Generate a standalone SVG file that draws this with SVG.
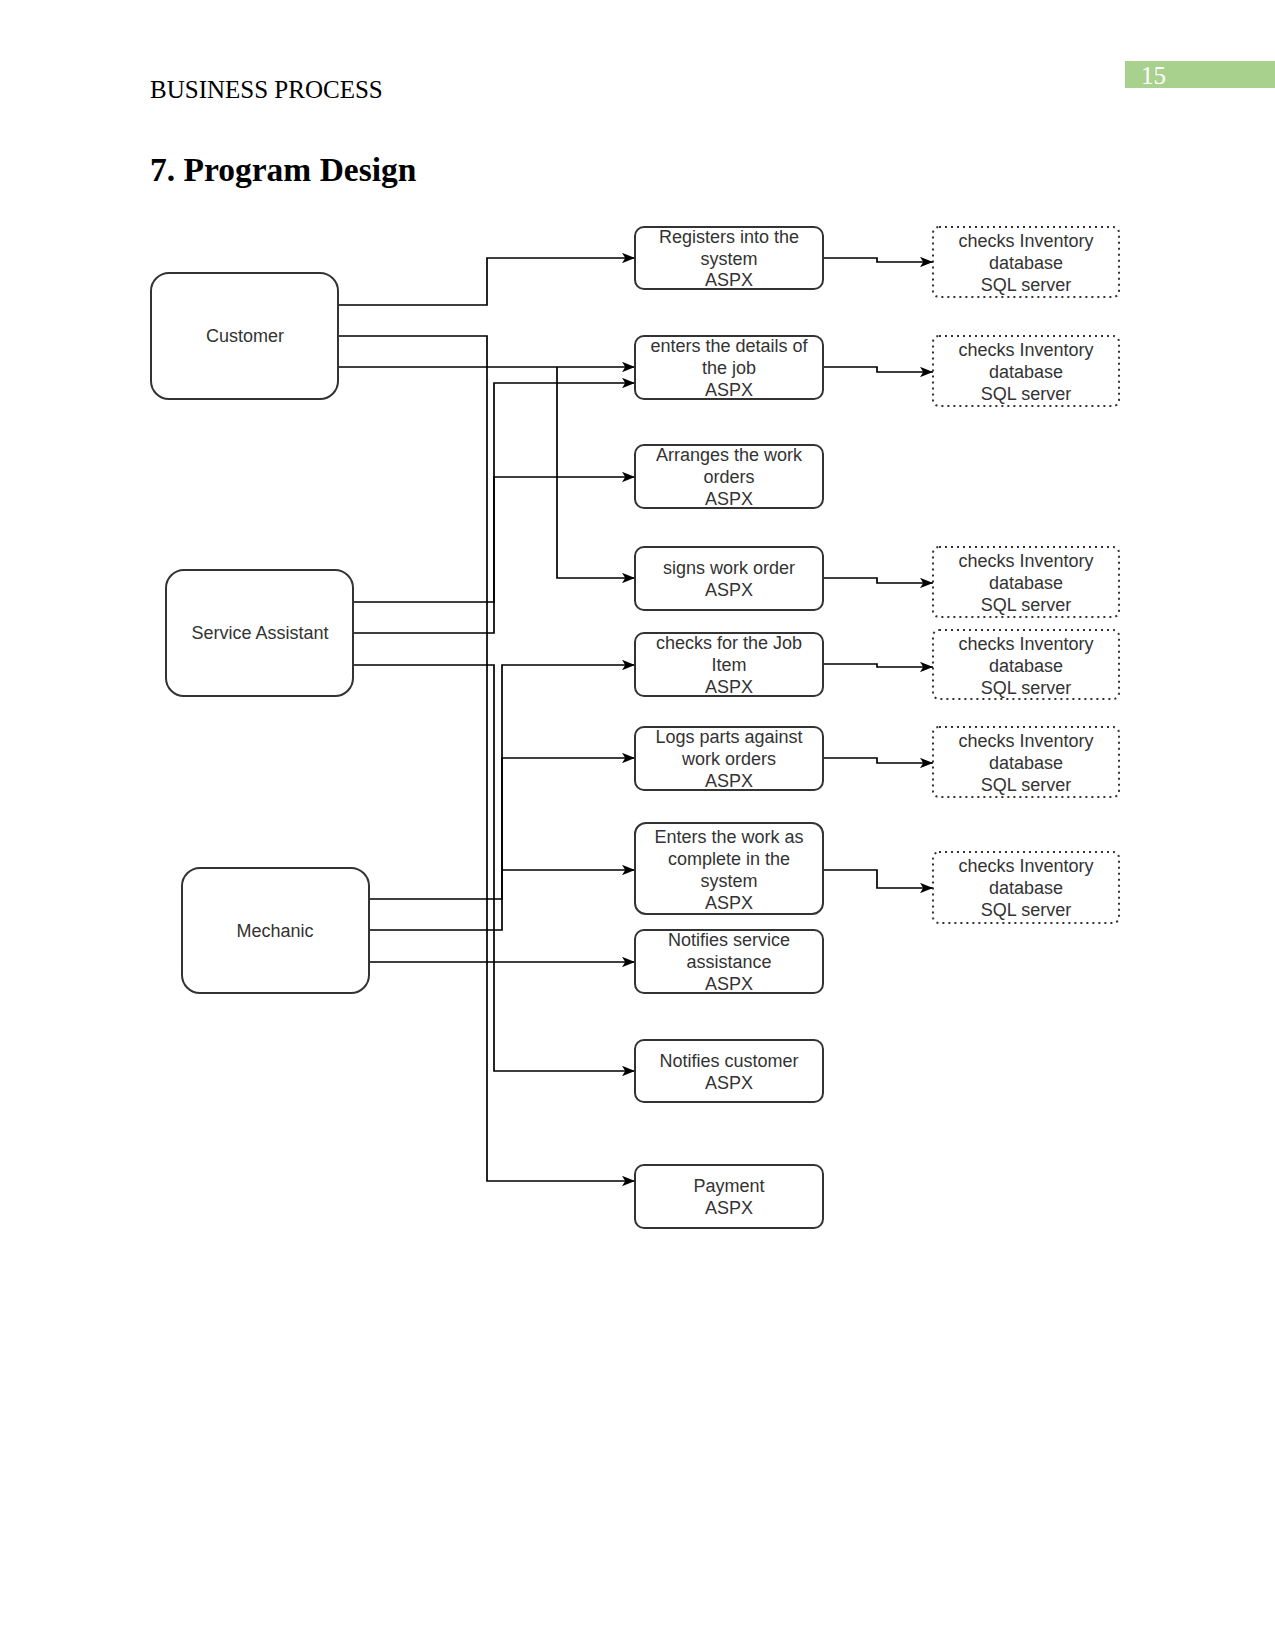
<svg xmlns="http://www.w3.org/2000/svg" width="1275" height="1650" viewBox="0 0 1275 1650">
<style>
.hdr{font-family:"Liberation Serif","Times New Roman",serif;fill:#000}
.t{font-family:"Liberation Sans",Arial,sans-serif;font-size:18px;fill:#333;text-anchor:middle}
.actor{fill:#fff;stroke:#333;stroke-width:2}
.box{fill:#fff;stroke:#333;stroke-width:2}
.db{fill:#fff;stroke:#333;stroke-width:2;stroke-dasharray:2 4}
.c{fill:none;stroke:#000;stroke-width:1.7}
.ca{fill:none;stroke:#000;stroke-width:1.7;marker-end:url(#arr)}
</style>
<defs>
<marker id="arr" viewBox="0 0 10 8" markerWidth="13" markerHeight="10.4" refX="10" refY="4" orient="auto" markerUnits="userSpaceOnUse">
<path d="M0,0 L10,4 L0,8 L2.5,4 Z" fill="#000"/>
</marker>
</defs>
<rect width="1275" height="1650" fill="#fff"/>
<g id="header">
<text class="hdr" x="150" y="98" font-size="25">BUSINESS PROCESS</text>
<rect x="1125" y="61" width="150" height="27" fill="#a9d18e"/>
<text class="hdr" x="1141" y="84" font-size="25" style="fill:#fff">15</text>
<text class="hdr" x="150" y="181" font-size="33.5" font-weight="bold">7. Program Design</text>
</g>
<g id="connectors">
<!-- Customer -->
<path class="ca" d="M338,305 H487 V258 H635"/>
<path class="ca" d="M338,336 H487 V1181 H635"/>
<path class="ca" d="M338,367 H635"/>
<path class="ca" d="M557,367 V578 H635"/>
<!-- Service Assistant -->
<path class="ca" d="M353,602 H494 V383 H635"/>
<path class="ca" d="M353,633 H494 V477 H635"/>
<path class="ca" d="M353,665 H494 V1071 H635"/>
<!-- Mechanic -->
<path class="ca" d="M369,899 H502 V665 H635"/>
<path class="ca" d="M369,930 H502 V758 H635"/>
<path class="ca" d="M502,870 H635"/>
<path class="ca" d="M369,962 H635"/>
<!-- to databases -->
<path class="ca" d="M823,258 H877 V262 H933"/>
<path class="ca" d="M823,367 H877 V372 H933"/>
<path class="ca" d="M823,578 H877 V583 H933"/>
<path class="ca" d="M823,664 H877 V667 H933"/>
<path class="ca" d="M823,758 H877 V763 H933"/>
<path class="ca" d="M823,870 H877 V888 H933"/>
</g>
<g id="customer">
<rect class="actor" x="151" y="273" width="187" height="126" rx="18"/>
<text class="t" x="245" y="342">Customer</text>
</g>
<g id="service-assistant">
<rect class="actor" x="166" y="570" width="187" height="126" rx="18"/>
<text class="t" x="260" y="639">Service Assistant</text>
</g>
<g id="mechanic">
<rect class="actor" x="182" y="868" width="187" height="125" rx="18"/>
<text class="t" x="275" y="937">Mechanic</text>
</g>
<g id="registers">
<rect class="box" x="635" y="227" width="188" height="62" rx="9"/>
<text class="t" x="729" y="243">Registers into the</text>
<text class="t" x="729" y="264.5">system</text>
<text class="t" x="729" y="286">ASPX</text>
</g>
<g id="enters-details">
<rect class="box" x="635" y="336" width="188" height="63" rx="9"/>
<text class="t" x="729" y="352">enters the details of</text>
<text class="t" x="729" y="374">the job</text>
<text class="t" x="729" y="395.5">ASPX</text>
</g>
<g id="arranges">
<rect class="box" x="635" y="445" width="188" height="63" rx="9"/>
<text class="t" x="729" y="461">Arranges the work</text>
<text class="t" x="729" y="483">orders</text>
<text class="t" x="729" y="504.5">ASPX</text>
</g>
<g id="signs">
<rect class="box" x="635" y="547" width="188" height="63" rx="9"/>
<text class="t" x="729" y="574">signs work order</text>
<text class="t" x="729" y="596">ASPX</text>
</g>
<g id="checks-job">
<rect class="box" x="635" y="633" width="188" height="63" rx="9"/>
<text class="t" x="729" y="649">checks for the Job</text>
<text class="t" x="729" y="671">Item</text>
<text class="t" x="729" y="692.5">ASPX</text>
</g>
<g id="logs-parts">
<rect class="box" x="635" y="727" width="188" height="63" rx="9"/>
<text class="t" x="729" y="743">Logs parts against</text>
<text class="t" x="729" y="765">work orders</text>
<text class="t" x="729" y="786.5">ASPX</text>
</g>
<g id="enters-work">
<rect class="box" x="635" y="823" width="188" height="91" rx="11"/>
<text class="t" x="729" y="843">Enters the work as</text>
<text class="t" x="729" y="865">complete in the</text>
<text class="t" x="729" y="887">system</text>
<text class="t" x="729" y="909">ASPX</text>
</g>
<g id="notifies-sa">
<rect class="box" x="635" y="930" width="188" height="63" rx="9"/>
<text class="t" x="729" y="946">Notifies service</text>
<text class="t" x="729" y="968">assistance</text>
<text class="t" x="729" y="989.5">ASPX</text>
</g>
<g id="notifies-customer">
<rect class="box" x="635" y="1040" width="188" height="62" rx="9"/>
<text class="t" x="729" y="1067">Notifies customer</text>
<text class="t" x="729" y="1089">ASPX</text>
</g>
<g id="payment">
<rect class="box" x="635" y="1165" width="188" height="63" rx="9"/>
<text class="t" x="729" y="1192">Payment</text>
<text class="t" x="729" y="1214">ASPX</text>
</g>
<g id="db1">
<rect class="db" x="933" y="227" width="186" height="70" rx="6"/>
<text class="t" x="1026" y="247">checks Inventory</text>
<text class="t" x="1026" y="269">database</text>
<text class="t" x="1026" y="291">SQL server</text>
</g>
<g id="db2">
<rect class="db" x="933" y="336" width="186" height="70" rx="6"/>
<text class="t" x="1026" y="356">checks Inventory</text>
<text class="t" x="1026" y="378">database</text>
<text class="t" x="1026" y="400">SQL server</text>
</g>
<g id="db3">
<rect class="db" x="933" y="547" width="186" height="70" rx="6"/>
<text class="t" x="1026" y="567">checks Inventory</text>
<text class="t" x="1026" y="589">database</text>
<text class="t" x="1026" y="611">SQL server</text>
</g>
<g id="db4">
<rect class="db" x="933" y="630" width="186" height="69" rx="6"/>
<text class="t" x="1026" y="650">checks Inventory</text>
<text class="t" x="1026" y="672">database</text>
<text class="t" x="1026" y="694">SQL server</text>
</g>
<g id="db5">
<rect class="db" x="933" y="727" width="186" height="70" rx="6"/>
<text class="t" x="1026" y="747">checks Inventory</text>
<text class="t" x="1026" y="769">database</text>
<text class="t" x="1026" y="791">SQL server</text>
</g>
<g id="db6">
<rect class="db" x="933" y="852" width="186" height="71" rx="6"/>
<text class="t" x="1026" y="872">checks Inventory</text>
<text class="t" x="1026" y="894">database</text>
<text class="t" x="1026" y="916">SQL server</text>
</g>
</svg>
